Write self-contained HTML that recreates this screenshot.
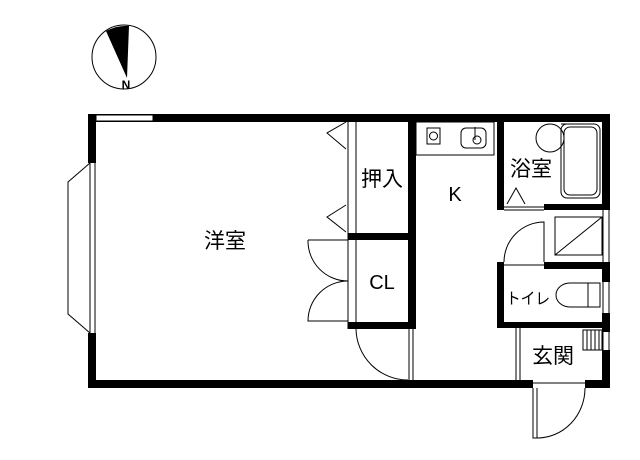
<html><head><style>body{margin:0;background:#fff}svg{display:block}text{font-family:"Liberation Sans","Noto Sans CJK JP",sans-serif}</style></head><body>
<svg width="640" height="460" viewBox="0 0 640 460" xmlns="http://www.w3.org/2000/svg">
<rect width="640" height="460" fill="#fff"/>
<circle cx="124" cy="57" r="32" fill="none" stroke="#000" stroke-width="1"/>
<path d="M106,31 Q118,25 129,26 L127,78 Z" fill="#000"/>
<text x="126" y="89" font-size="12" font-family="Liberation Serif,serif" font-weight="bold" text-anchor="middle">N</text>
<g fill="#000">
<rect x="88" y="114" width="522" height="8"/>
<rect x="88" y="380" width="522" height="8"/>
<rect x="88" y="114" width="8" height="49"/>
<rect x="88" y="333" width="8" height="55"/>
<rect x="602" y="114" width="8" height="96"/>
<rect x="602" y="262" width="8" height="20"/>
<rect x="602" y="313" width="8" height="19"/>
<rect x="602" y="350" width="8" height="38"/>
<rect x="408" y="114" width="8" height="215"/>
<rect x="348" y="233" width="68" height="7"/>
<rect x="348" y="322" width="68" height="7"/>
<rect x="497" y="114" width="7" height="96"/>
<rect x="497" y="204" width="7" height="6"/>
<rect x="544" y="204" width="66" height="6"/>
<rect x="497" y="262" width="7" height="66"/>
<rect x="544" y="262" width="66" height="7"/>
<rect x="497" y="322" width="113" height="6"/>
</g>
<rect x="533" y="379" width="52" height="10" fill="#fff"/>
<g fill="none" stroke="#000" stroke-width="1">
<rect x="96" y="115" width="57" height="6" fill="#fff"/>
<polyline points="90,163 68,182 68,314 90,333"/>
<line x1="90" y1="163" x2="90" y2="333"/><line x1="95" y1="163" x2="95" y2="333"/>
<line x1="348" y1="122" x2="348" y2="329"/><line x1="356" y1="122" x2="356" y2="233"/><line x1="356" y1="240" x2="356" y2="322"/>
<polyline points="346,122 327,133 346,149"/>
<polyline points="346,205 327,217 346,232"/>
<path d="M308,240 L348,240 L348,281 A40,40 0 0 1 308,240"/>
<path d="M348,281 A40,40 0 0 0 308,321 L348,321"/>
<path d="M356,329 A52,52 0 0 0 408,380"/>
<line x1="409" y1="329" x2="409" y2="380"/><line x1="413" y1="329" x2="413" y2="380"/>
<rect x="416" y="122" width="78" height="33"/>
<rect x="427" y="128" width="13" height="16"/><circle cx="433.5" cy="136" r="4"/>
<rect x="461" y="128" width="25" height="20" rx="5"/><circle cx="477" cy="140" r="4"/><line x1="475" y1="127" x2="475" y2="140"/>
<line x1="504" y1="207" x2="544" y2="207"/><line x1="504" y1="210" x2="544" y2="210"/>
<polyline points="507,204 516,188 525,204"/>
<rect x="561" y="124" width="39" height="74" rx="6"/>
<rect x="564" y="127" width="33" height="68" rx="6"/>
<circle cx="550" cy="138" r="14"/>
<line x1="561" y1="124" x2="574" y2="124"/>
<rect x="555" y="217" width="47" height="38"/>
<line x1="555" y1="255" x2="602" y2="217"/>
<line x1="603" y1="210" x2="603" y2="262"/><line x1="609" y1="210" x2="609" y2="262"/>
<path d="M544,262 L544,222 A40,40 0 0 0 504,262"/>
<line x1="504" y1="265" x2="544" y2="265"/>
<path d="M599,283 L570,283 A14,12 0 0 0 570,307 L599,307"/>
<rect x="588" y="283" width="12" height="24"/>
<line x1="603" y1="282" x2="603" y2="313"/><line x1="609" y1="282" x2="609" y2="313"/>
<line x1="516" y1="328" x2="516" y2="380"/><line x1="520" y1="328" x2="520" y2="380"/>
<rect x="583" y="330" width="19" height="20"/>
<line x1="587" y1="330" x2="587" y2="350"/><line x1="591" y1="330" x2="591" y2="350"/><line x1="595" y1="330" x2="595" y2="350"/><line x1="599" y1="330" x2="599" y2="350"/>
<line x1="603" y1="332" x2="603" y2="350"/><line x1="609" y1="332" x2="609" y2="350"/>
<line x1="533" y1="383" x2="585" y2="383"/>
<path d="M533,388 L533,438 L537,438 L537,388 M537,438 A48,50 0 0 0 585,388"/>
</g>
<g font-size="21" text-anchor="middle">
<text x="225" y="248">洋室</text>
<text x="382" y="186">押入</text>
<text x="382" y="289" font-size="20">CL</text>
<text x="455" y="201" font-size="20">K</text>
<text x="531" y="176">浴室</text>
<text x="528" y="304" font-size="16" textLength="44" lengthAdjust="spacingAndGlyphs">トイレ</text>
<text x="553" y="363">玄関</text>
</g>
</svg></body></html>
